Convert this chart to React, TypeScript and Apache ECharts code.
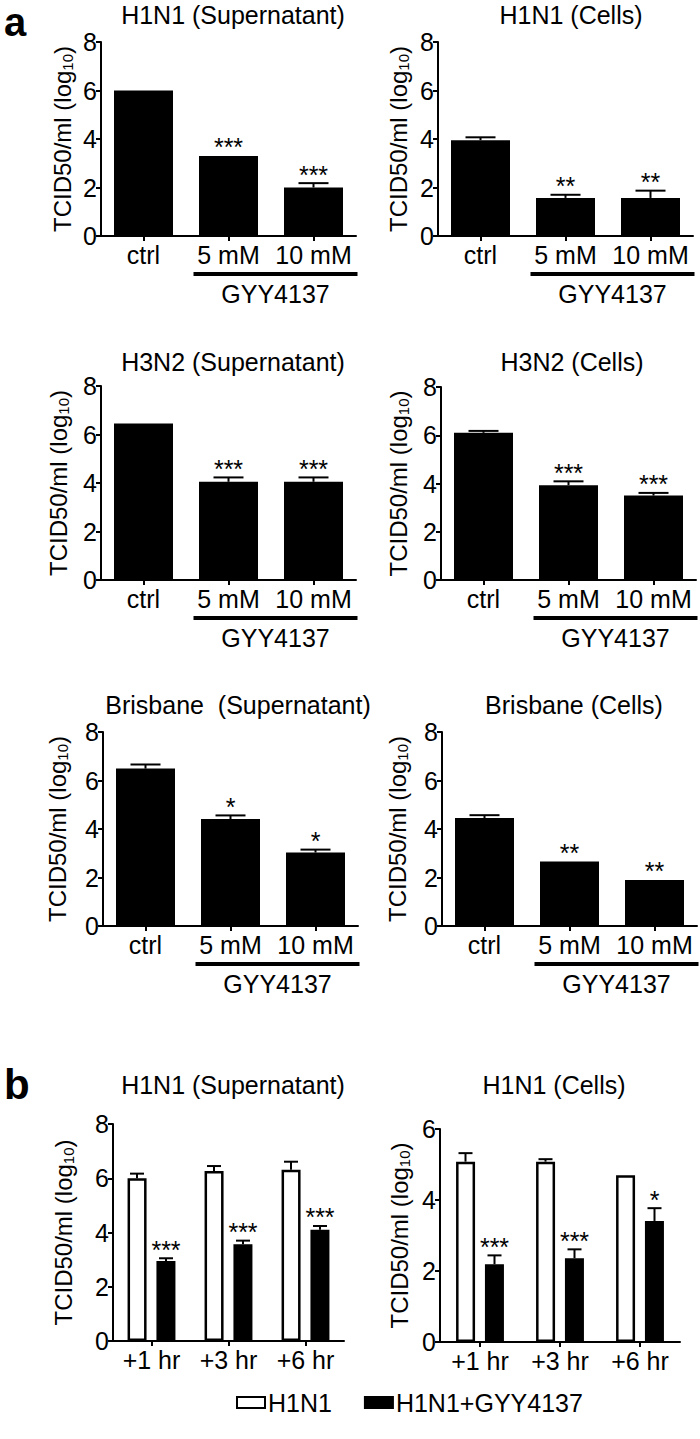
import React, { useEffect, useRef } from "react";
import * as echarts from "echarts";

const FONT = '"Liberation Sans", Arial, Helvetica, sans-serif';

// ---------- categories ----------
const aCategories = ["ctrl", "5 mM", "10 mM"];
const bCategories = ["+1 hr", "+3 hr", "+6 hr"];

// ---------- panel a data ----------
const h1n1SupValues = [6.0, 3.3, 2.0];
const h1n1SupErrors = [0, 0, 0.18];
const h1n1SupStars = ["", "***", "***"];

const h1n1CellValues = [3.95, 1.57, 1.57];
const h1n1CellErrors = [0.12, 0.13, 0.3];
const h1n1CellStars = ["", "**", "**"];

const h3n2SupValues = [6.45, 4.05, 4.05];
const h3n2SupErrors = [0, 0.18, 0.18];
const h3n2SupStars = ["", "***", "***"];

const h3n2CellValues = [6.1, 3.93, 3.5];
const h3n2CellErrors = [0.08, 0.16, 0.11];
const h3n2CellStars = ["", "***", "***"];

const brisSupValues = [6.49, 4.41, 3.03];
const brisSupErrors = [0.17, 0.15, 0.12];
const brisSupStars = ["", "*", "*"];

const brisCellValues = [4.45, 2.66, 1.9];
const brisCellErrors = [0.12, 0, 0];
const brisCellStars = ["", "**", "**"];

// ---------- panel b data ----------
const bSupH1N1Values = [6.0, 6.27, 6.31];
const bSupH1N1Errors = [0.17, 0.18, 0.3];
const bSupGyyValues = [2.95, 3.57, 4.1];
const bSupGyyErrors = [0.1, 0.13, 0.14];
const bSupStars = ["***", "***", "***"];

const bCellH1N1Values = [5.08, 5.08, 4.7];
const bCellH1N1Errors = [0.24, 0.07, 0];
const bCellGyyValues = [2.19, 2.36, 3.41];
const bCellGyyErrors = [0.25, 0.25, 0.36];
const bCellStars = ["***", "***", "*"];

const noStars = ["", "", ""];

// ---------- layout ----------
const aPanels = [
  { title: "H1N1 (Supernatant)", values: h1n1SupValues, errors: h1n1SupErrors, stars: h1n1SupStars, left: 101, top: 42, width: 255, height: 194, tx: 233, ty: 15, gap: 26 },
  { title: "H1N1 (Cells)", values: h1n1CellValues, errors: h1n1CellErrors, stars: h1n1CellStars, left: 438, top: 42, width: 255, height: 194, tx: 571, ty: 15, gap: 27 },
  { title: "H3N2 (Supernatant)", values: h3n2SupValues, errors: h3n2SupErrors, stars: h3n2SupStars, left: 101, top: 386, width: 255, height: 194, tx: 233, ty: 362, gap: 30 },
  { title: "H3N2 (Cells)", values: h3n2CellValues, errors: h3n2CellErrors, stars: h3n2CellStars, left: 441, top: 387, width: 255, height: 193, tx: 572, ty: 362, gap: 30 },
  { title: "Brisbane  (Supernatant)", values: brisSupValues, errors: brisSupErrors, stars: brisSupStars, left: 103, top: 732, width: 255, height: 194, tx: 238, ty: 705, gap: 33 },
  { title: "Brisbane (Cells)", values: brisCellValues, errors: brisCellErrors, stars: brisCellStars, left: 442, top: 732, width: 255, height: 194, tx: 574, ty: 705, gap: 32 },
];

const bPanels = [
  { title: "H1N1 (Supernatant)", h1: bSupH1N1Values, h1e: bSupH1N1Errors, g: bSupGyyValues, ge: bSupGyyErrors, stars: bSupStars, max: 8, left: 113, top: 1124, width: 231, height: 217, tx: 233, ty: 1085, gap: 37 },
  { title: "H1N1 (Cells)", h1: bCellH1N1Values, h1e: bCellH1N1Errors, g: bCellGyyValues, ge: bCellGyyErrors, stars: bCellStars, max: 6, left: 440, top: 1129, width: 240, height: 213, tx: 554, ty: 1085, gap: 28 },
];

const axisColor = "#000";

function yAxisOpt(idx: number, max: number, gap: number) {
  return {
    type: "value",
    gridIndex: idx,
    min: 0,
    max,
    interval: 2,
    axisLine: { show: true, lineStyle: { color: axisColor, width: 2 } },
    axisTick: { show: true, length: 5, lineStyle: { color: axisColor, width: 2 } },
    axisLabel: { fontSize: 25, color: "#000", margin: 4, fontFamily: FONT },
    splitLine: { show: false },
    name: "{b|TCID50/ml (log}{s|10}{b|)}",
    nameLocation: "middle",
    nameGap: gap,
    nameTextStyle: {
      fontFamily: FONT,
      color: "#000",
      rich: {
        b: { fontSize: 24, fontFamily: FONT, color: "#000", lineHeight: 26, verticalAlign: "middle" },
        s: { fontSize: 15, fontFamily: FONT, color: "#000", lineHeight: 12, verticalAlign: "bottom" },
      },
    },
  };
}

function xAxisOpt(idx: number, data: string[]) {
  return {
    type: "category",
    gridIndex: idx,
    data,
    axisLine: { show: true, onZero: true, lineStyle: { color: axisColor, width: 2 } },
    axisTick: { show: true, alignWithLabel: true, length: 5, lineStyle: { color: axisColor, width: 2 } },
    axisLabel: { fontSize: 25, color: "#000", margin: 6, fontFamily: FONT, interval: 0 },
    splitLine: { show: false },
  };
}

function errorSeries(idx: number, values: number[], errors: number[], stars: string[], offset: number, capHalf: number) {
  return {
    type: "custom",
    xAxisIndex: idx,
    yAxisIndex: idx,
    z: 5,
    silent: true,
    data: values.map((v, i) => [i, v, errors[i]]),
    renderItem: (params: any, api: any) => {
      const i = api.value(0);
      const v = api.value(1);
      const e = api.value(2);
      const base = api.coord([i, v]);
      const top = api.coord([i, v + e]);
      const x = base[0] + offset;
      const children: any[] = [];
      if (e > 0) {
        children.push({ type: "line", shape: { x1: x, y1: base[1], x2: x, y2: top[1] }, style: { stroke: "#000", lineWidth: 2 } });
        children.push({ type: "line", shape: { x1: x - capHalf, y1: top[1], x2: x + capHalf, y2: top[1] }, style: { stroke: "#000", lineWidth: 2 } });
      }
      const s = stars[params.dataIndex];
      if (s) {
        children.push({
          type: "text",
          style: { text: s, x, y: top[1] + 4, textAlign: "center", textVerticalAlign: "bottom", fontSize: 25, fontFamily: FONT, fill: "#000" },
        });
      }
      return { type: "group", children };
    },
  };
}

export default function App() {
  const ref = useRef<HTMLDivElement>(null);

  useEffect(() => {
    document.body.style.margin = "0";
    if (!ref.current) return;
    const chart = echarts.init(ref.current, undefined, { renderer: "svg" });

    const grids: any[] = [];
    const xAxes: any[] = [];
    const yAxes: any[] = [];
    const series: any[] = [];
    const titles: any[] = [];

    aPanels.forEach((p, i) => {
      grids.push({ left: p.left, top: p.top, width: p.width, height: p.height, containLabel: false });
      xAxes.push(xAxisOpt(i, aCategories));
      yAxes.push(yAxisOpt(i, 8, p.gap));
      series.push({
        type: "bar",
        name: p.title,
        xAxisIndex: i,
        yAxisIndex: i,
        barWidth: 59,
        data: p.values,
        itemStyle: { color: "#000" },
      });
      series.push(errorSeries(i, p.values, p.errors, p.stars, 0, 15));
      titles.push({
        text: p.title,
        left: p.tx,
        top: p.ty - 13,
        textAlign: "center",
        padding: 0,
        textStyle: { fontSize: 25, fontWeight: "normal", fontFamily: FONT, color: "#000" },
      });
    });

    bPanels.forEach((p, j) => {
      const i = aPanels.length + j;
      grids.push({ left: p.left, top: p.top, width: p.width, height: p.height, containLabel: false });
      xAxes.push(xAxisOpt(i, bCategories));
      yAxes.push(yAxisOpt(i, p.max, p.gap));
      series.push({
        type: "bar",
        name: "H1N1",
        xAxisIndex: i,
        yAxisIndex: i,
        barWidth: 19,
        barGap: "52%",
        data: p.h1,
        itemStyle: { color: "#fff", borderColor: "#000", borderWidth: 2.5 },
      });
      series.push({
        type: "bar",
        name: "H1N1+GYY4137",
        xAxisIndex: i,
        yAxisIndex: i,
        barWidth: 19,
        barGap: "52%",
        data: p.g,
        itemStyle: { color: "#000", borderColor: "#000", borderWidth: 2.5 },
      });
      series.push(errorSeries(i, p.h1, p.h1e, noStars, -14.5, 7));
      series.push(errorSeries(i, p.g, p.ge, p.stars, 14.5, 7));
      titles.push({
        text: p.title,
        left: p.tx,
        top: p.ty - 13,
        textAlign: "center",
        padding: 0,
        textStyle: { fontSize: 25, fontWeight: "normal", fontFamily: FONT, color: "#000" },
      });
    });

    chart.setOption({
      animation: false,
      backgroundColor: "#fff",
      title: titles,
      grid: grids,
      xAxis: xAxes,
      yAxis: yAxes,
      series,
      legend: {
        data: ["H1N1", "H1N1+GYY4137"],
        left: 236,
        top: 1390,
        padding: 0,
        itemWidth: 28,
        itemHeight: 11,
        itemGap: 32,
        icon: "rect",
        selectedMode: false,
        textStyle: { fontSize: 25, color: "#000", fontFamily: FONT, padding: [0, 0, 0, -2] },
      },
    });

    // Annotations: GYY4137 underline + label, panel letters
    const graphics: any[] = [];
    aPanels.forEach((p, i) => {
      const x5 = chart.convertToPixel({ xAxisIndex: i } as any, "5 mM") as unknown as number;
      const x10 = chart.convertToPixel({ xAxisIndex: i } as any, "10 mM") as unknown as number;
      const y0 = chart.convertToPixel({ yAxisIndex: i } as any, 0) as unknown as number;
      const xl = x5 - 35;
      const xr = x10 + 44;
      graphics.push({
        type: "line",
        shape: { x1: xl, y1: y0 + 38, x2: xr, y2: y0 + 38 },
        style: { stroke: "#000", lineWidth: 4 },
      });
      graphics.push({
        type: "text",
        x: (xl + xr) / 2,
        y: y0 + 58,
        style: { text: "GYY4137", textAlign: "center", textVerticalAlign: "middle", fontSize: 25, fontFamily: FONT, fill: "#000" },
      });
    });
    graphics.push({
      type: "text",
      x: 4,
      y: 22,
      style: { text: "a", textAlign: "left", textVerticalAlign: "middle", fontSize: 40, fontWeight: "bold", fontFamily: FONT, fill: "#000" },
    });
    graphics.push({
      type: "text",
      x: 4,
      y: 1084,
      style: { text: "b", textAlign: "left", textVerticalAlign: "middle", fontSize: 42, fontWeight: "bold", fontFamily: FONT, fill: "#000" },
    });
    chart.setOption({ graphic: graphics });

    return () => {
      chart.dispose();
    };
  }, []);

  return <div ref={ref} style={{ width: 700, height: 1439 }} />;
}
